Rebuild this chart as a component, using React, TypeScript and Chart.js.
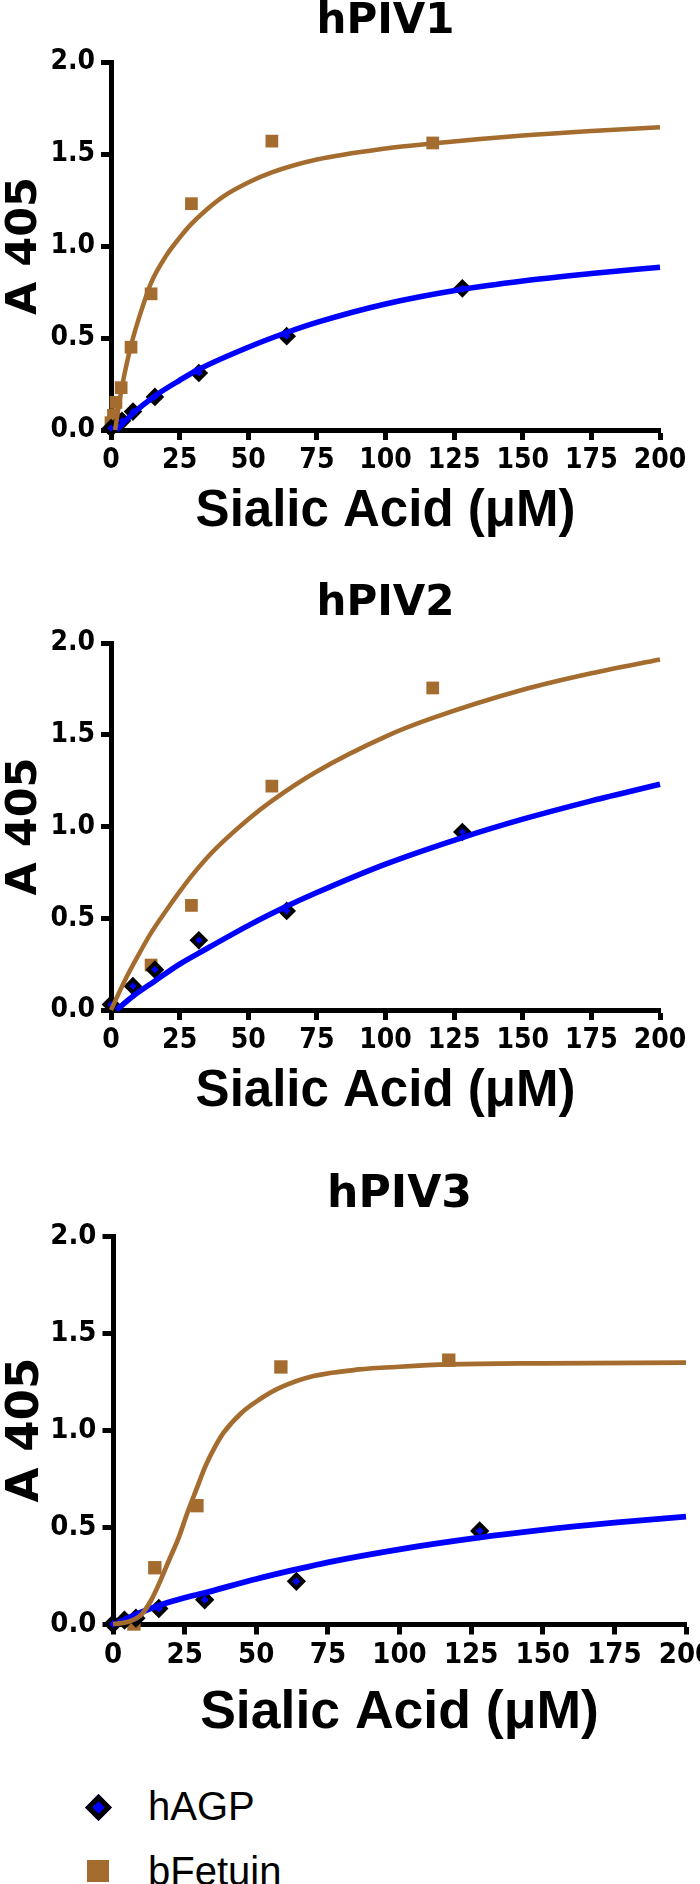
import React, { useEffect, useRef } from 'react';
import Chart from 'chart.js/auto';

const BLUE = '#0000ff';
const BROWN = '#a46c2e';
const CANVAS_W = 760;

const X_TICKS = [0, 25, 50, 75, 100, 125, 150, 175, 200];
const X_TICK_LABELS = ['0', '25', '50', '75', '100', '125', '150', '175', '200'];
const Y_TICKS = [0, 0.5, 1, 1.5, 2];
const Y_TICK_LABELS = ['0.0', '0.5', '1.0', '1.5', '2.0'];

const X_TITLE = 'Sialic Acid (μM)';
const Y_TITLE = 'A 405';
const SERIES_NAMES = ['hAGP', 'bFetuin'];

// ---- hPIV1 ----
const p1AgpX = [0, 4, 8, 16, 32, 64, 128];
const p1AgpY = [0.01, 0.05, 0.1, 0.18, 0.31, 0.51, 0.77];
const p1FetX = [0, 0.9, 1.8, 3.7, 7.3, 14.6, 29.3, 58.6, 117.2];
const p1FetY = [0.04, 0.08, 0.15, 0.23, 0.45, 0.74, 1.23, 1.57, 1.56];
const p1AgpFitX = [2, 8, 16, 25, 32, 50, 64, 75, 100, 128, 150, 175, 200];
const p1AgpFitY = [0, 0.09, 0.185, 0.27, 0.33, 0.45, 0.53, 0.585, 0.685, 0.765, 0.81, 0.85, 0.885];
const p1FetFitX = [1.5, 2.5, 3.7, 5, 7.3, 10, 14.6, 20, 25, 29.3, 35, 41, 50, 58.6, 75, 100, 117, 150, 175, 200];
const p1FetFitY = [0, 0.1, 0.21, 0.31, 0.46, 0.6, 0.8, 0.945, 1.045, 1.12, 1.2, 1.27, 1.345, 1.4, 1.47, 1.53, 1.557, 1.6, 1.625, 1.645];

// ---- hPIV2 ----
const p2AgpX = [0, 8, 16, 32, 64, 128];
const p2AgpY = [0.03, 0.13, 0.22, 0.38, 0.54, 0.97];
const p2FetX = [14.6, 29.3, 58.6, 117.2];
const p2FetY = [0.245, 0.57, 1.22, 1.755];
const p2AgpFitX = [2, 8, 16, 25, 32, 50, 64, 75, 100, 128, 150, 175, 200];
const p2AgpFitY = [0, 0.075, 0.158, 0.25, 0.31, 0.46, 0.565, 0.64, 0.795, 0.94, 1.04, 1.14, 1.23];
const p2FetFitX = [0, 5, 10, 14.6, 20, 25, 29.3, 35, 41, 50, 58.6, 75, 100, 117, 150, 175, 200];
const p2FetFitY = [0, 0.16, 0.3, 0.42, 0.54, 0.645, 0.73, 0.83, 0.92, 1.04, 1.14, 1.3, 1.49, 1.59, 1.745, 1.835, 1.91];

// ---- hPIV3 ----
const p3AgpX = [0, 4, 8, 16, 32, 64, 128];
const p3AgpY = [0, 0.02, 0.03, 0.08, 0.125, 0.22, 0.48];
const p3FetX = [7.3, 14.6, 29.3, 58.6, 117.2];
const p3FetY = [0, 0.29, 0.61, 1.325, 1.36];
const p3AgpFitX = [1, 8, 16.6, 25, 31.8, 50, 63.5, 75, 100, 127.6, 150, 175, 200];
const p3AgpFitY = [0, 0.05, 0.098, 0.135, 0.16, 0.232, 0.28, 0.318, 0.385, 0.445, 0.485, 0.522, 0.554];
const p3FetFitX = [0, 5, 10, 13.4, 16.6, 19.7, 22.8, 26, 29, 32.3, 35.5, 38.6, 44.9, 51.2, 58.3, 70, 85.8, 100, 117.3, 150, 200];
const p3FetFitY = [0, 0.01, 0.05, 0.125, 0.225, 0.334, 0.44, 0.575, 0.69, 0.815, 0.91, 0.986, 1.089, 1.158, 1.218, 1.278, 1.312, 1.326, 1.338, 1.344, 1.347];

const ARIAL = "'Liberation Sans', Arial, Helvetica, sans-serif";
const WIDE = "'DejaVu Sans', Verdana, sans-serif";
const TICK_FONT = "'Liberation Sans Narrow', 'Arial Narrow', 'DejaVu Sans Condensed', 'Liberation Sans', sans-serif";

const pts = (xs: number[], ys: number[]) => xs.map((x, i) => ({ x, y: ys[i] }));

type PanelProps = {
  top: number;
  height: number;
  plotLeft: number;
  plotTop: number;
  plotRight: number;
  plotBottom: number;
  title: string;
  titlePad: number;
  xTitlePad: number;
  yTitlePad: number;
  s: number;
  agpX: number[];
  agpY: number[];
  fetX: number[];
  fetY: number[];
  agpFitX: number[];
  agpFitY: number[];
  fetFitX: number[];
  fetFitY: number[];
};

function Panel(p: PanelProps) {
  const ref = useRef<HTMLCanvasElement | null>(null);
  useEffect(() => {
    if (!ref.current) return;
    const s = p.s;
    const tickFont = { family: TICK_FONT, size: Math.round(28 * s), weight: 'bold' as const };
    const gridCfg = {
      display: true,
      drawOnChartArea: false,
      drawTicks: true,
      tickLength: 10 * s,
      tickWidth: 5,
      tickColor: '#000',
    };
    const chart = new Chart(ref.current, {
      type: 'scatter',
      data: {
        datasets: [
          {
            label: SERIES_NAMES[1] + ' fit',
            data: pts(p.fetFitX, p.fetFitY),
            showLine: true,
            borderColor: BROWN,
            backgroundColor: BROWN,
            borderWidth: 4.5 * s,
            pointRadius: 0,
            cubicInterpolationMode: 'monotone',
            order: 1,
            clip: false,
          },
          {
            label: SERIES_NAMES[0] + ' fit',
            data: pts(p.agpFitX, p.agpFitY),
            showLine: true,
            borderColor: BLUE,
            backgroundColor: BLUE,
            borderWidth: 5.5 * s,
            pointRadius: 0,
            cubicInterpolationMode: 'monotone',
            order: 2,
            clip: false,
          },
          {
            label: SERIES_NAMES[0],
            data: pts(p.agpX, p.agpY),
            showLine: false,
            pointStyle: 'rectRot',
            pointRadius: 6.5 * s,
            pointBackgroundColor: BLUE,
            pointBorderColor: '#000',
            pointBorderWidth: 4,
            order: 3,
            clip: false,
          },
          {
            label: SERIES_NAMES[1],
            data: pts(p.fetX, p.fetY),
            showLine: false,
            pointStyle: 'rect',
            pointRadius: 9 * s,
            pointBackgroundColor: BROWN,
            pointBorderColor: BROWN,
            pointBorderWidth: 0,
            order: 4,
            clip: false,
          },
        ],
      },
      options: {
        responsive: false,
        animation: false,
        devicePixelRatio: 1,
        events: [],
        layout: { padding: { left: 0, top: 0, bottom: 0, right: CANVAS_W - p.plotRight } },
        plugins: {
          legend: { display: false },
          tooltip: { enabled: false },
          title: { display: false },
        },
        scales: {
          x: {
            type: 'linear',
            position: 'bottom',
            min: 0,
            max: 200,
            afterFit: (sc: any) => {
              sc.height = p.height - p.plotBottom;
            },
            afterBuildTicks: (sc: any) => {
              sc.ticks = X_TICKS.map((v) => ({ value: v }));
            },
            ticks: {
              autoSkip: false,
              maxRotation: 0,
              minRotation: 0,
              padding: 4,
              color: '#000',
              font: tickFont,
              callback: (_v: any, i: number) => X_TICK_LABELS[i],
            },
            grid: gridCfg,
            border: { display: true, color: '#000', width: 5 },
            title: {
              display: true,
              text: X_TITLE,
              color: '#000',
              font: { family: ARIAL, size: 51 * s, weight: 'bold', lineHeight: 1 },
              padding: { top: 0, bottom: p.xTitlePad },
            },
          },
          x2: {
            type: 'linear',
            position: 'top',
            min: 0,
            max: 1,
            afterFit: (sc: any) => {
              sc.height = p.plotTop;
            },
            grid: { display: false },
            border: { display: false },
            ticks: { display: false },
            title: {
              display: true,
              text: p.title,
              color: '#000',
              font: { family: WIDE, size: 42 * s, weight: 'bold', lineHeight: 1 },
              padding: { top: p.titlePad, bottom: 0 },
            },
          },
          y: {
            type: 'linear',
            position: 'left',
            min: 0,
            max: 2,
            afterFit: (sc: any) => {
              sc.width = p.plotLeft;
            },
            afterBuildTicks: (sc: any) => {
              sc.ticks = Y_TICKS.map((v) => ({ value: v }));
            },
            ticks: {
              autoSkip: false,
              padding: 6,
              color: '#000',
              font: tickFont,
              callback: (_v: any, i: number) => Y_TICK_LABELS[i],
            },
            grid: gridCfg,
            border: { display: true, color: '#000', width: 5 },
            title: {
              display: true,
              text: Y_TITLE,
              color: '#000',
              font: { family: WIDE, size: 43 * s, weight: 'bold', lineHeight: 1 },
              padding: { top: p.yTitlePad, bottom: 0 },
            },
          },
        },
      } as any,
    });
    return () => chart.destroy();
  }, []);
  return (
    <canvas
      ref={ref}
      width={CANVAS_W}
      height={p.height}
      style={{ position: 'absolute', left: 0, top: p.top, width: CANVAS_W, height: p.height, display: 'block' }}
    />
  );
}

function Legend() {
  const text: React.CSSProperties = {
    position: 'absolute',
    left: 148,
    fontFamily: ARIAL,
    fontSize: 40,
    lineHeight: '40px',
    color: '#000',
    whiteSpace: 'nowrap',
  };
  return (
    <>
      <div
        style={{
          position: 'absolute',
          left: 98 - 9.5,
          top: 1807 - 9.5,
          width: 19,
          height: 19,
          boxSizing: 'border-box',
          border: '5px solid #000',
          background: BLUE,
          transform: 'rotate(45deg)',
        }}
      />
      <div style={{ ...text, top: 1786 }}>{SERIES_NAMES[0]}</div>
      <div
        style={{
          position: 'absolute',
          left: 98 - 11,
          top: 1871 - 11,
          width: 22,
          height: 22,
          background: BROWN,
        }}
      />
      <div style={{ ...text, top: 1851 }}>{SERIES_NAMES[1]}</div>
    </>
  );
}

export default function App() {
  return (
    <div
      style={{
        position: 'absolute',
        left: 0,
        top: 0,
        width: 700,
        height: 1884,
        overflow: 'hidden',
        background: '#fff',
      }}
    >
      <Panel
        top={0}
        height={560}
        plotLeft={111}
        plotTop={62}
        plotRight={660}
        plotBottom={430}
        title="hPIV1"
        titlePad={1}
        xTitlePad={22.5}
        yTitlePad={3.5}
        s={1}
        agpX={p1AgpX}
        agpY={p1AgpY}
        fetX={p1FetX}
        fetY={p1FetY}
        agpFitX={p1AgpFitX}
        agpFitY={p1AgpFitY}
        fetFitX={p1FetFitX}
        fetFitY={p1FetFitY}
      />
      <Panel
        top={560}
        height={560}
        plotLeft={111}
        plotTop={83}
        plotRight={660}
        plotBottom={450}
        title="hPIV2"
        titlePad={23.5}
        xTitlePad={2.5}
        yTitlePad={3.5}
        s={1}
        agpX={p2AgpX}
        agpY={p2AgpY}
        fetX={p2FetX}
        fetY={p2FetY}
        agpFitX={p2AgpFitX}
        agpFitY={p2AgpFitY}
        fetFitX={p2FetFitX}
        fetFitY={p2FetFitY}
      />
      <Panel
        top={1120}
        height={640}
        plotLeft={113}
        plotTop={116}
        plotRight={686}
        plotBottom={504}
        title="hPIV3"
        titlePad={53}
        xTitlePad={19.75}
        yTitlePad={3.5}
        s={1.05}
        agpX={p3AgpX}
        agpY={p3AgpY}
        fetX={p3FetX}
        fetY={p3FetY}
        agpFitX={p3AgpFitX}
        agpFitY={p3AgpFitY}
        fetFitX={p3FetFitX}
        fetFitY={p3FetFitY}
      />
      <Legend />
    </div>
  );
}
